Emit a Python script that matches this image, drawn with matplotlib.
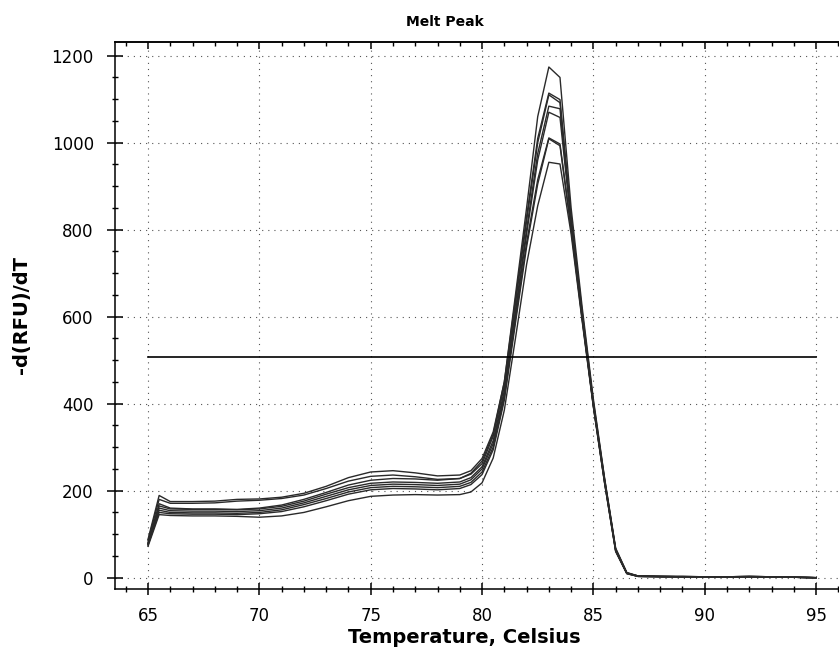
import matplotlib
matplotlib.use("Agg")
import matplotlib.pyplot as plt
from matplotlib.ticker import MultipleLocator

# ---------------- data ----------------
temperature = [65, 65.5, 66, 67, 68, 69, 70, 71, 72, 73, 74, 75, 76, 77, 78, 79, 79.5,
               80, 80.5, 81, 81.5, 82, 82.5, 83, 83.5, 84, 84.5, 85, 85.5, 86, 86.5,
               87, 88, 89, 90, 91, 92, 93, 94, 95]

well_1 = [78, 170, 160, 158, 158, 157, 160, 167, 180, 196, 213, 224, 228, 227, 224, 228, 240,
          268, 330, 450, 650, 850, 1060, 1174, 1150, 850, 620, 410, 230, 68, 12,
          4, 3, 3, 2, 2, 3, 2, 1, 0]
well_2 = [88, 189, 175, 175, 176, 180, 181, 185, 194, 210, 230, 243, 246, 241, 234, 236, 246,
          274, 335, 450, 640, 830, 1010, 1114, 1099, 830, 610, 405, 228, 66, 11,
          4, 3, 3, 2, 2, 3, 2, 1, 0]
well_3 = [85, 180, 171, 171, 172, 176, 178, 182, 190, 205, 222, 233, 236, 232, 226, 228, 238,
          262, 325, 440, 630, 820, 1000, 1110, 1092, 825, 605, 400, 226, 65, 11,
          4, 3, 2, 2, 2, 3, 2, 1, 0]
well_4 = [80, 165, 158, 157, 157, 156, 158, 164, 176, 192, 207, 217, 220, 219, 217, 220, 230,
          255, 315, 430, 615, 800, 975, 1084, 1078, 820, 600, 398, 224, 64, 10,
          4, 3, 2, 2, 2, 2, 2, 1, 0]
well_5 = [78, 160, 154, 153, 153, 152, 154, 160, 172, 187, 202, 212, 215, 214, 212, 215, 225,
          250, 308, 422, 605, 790, 960, 1070, 1058, 815, 598, 396, 222, 63, 10,
          3, 3, 2, 2, 2, 2, 2, 1, 0]
well_6 = [76, 155, 150, 149, 149, 148, 150, 156, 168, 182, 197, 207, 210, 209, 207, 210, 219,
          243, 300, 414, 595, 770, 915, 1011, 997, 805, 595, 395, 220, 62, 10,
          3, 2, 2, 2, 2, 2, 2, 1, 0]
well_7 = [75, 150, 147, 146, 146, 145, 147, 152, 163, 177, 192, 202, 205, 204, 202, 205, 214,
          237, 294, 408, 585, 760, 905, 1009, 993, 800, 592, 393, 219, 61, 10,
          3, 2, 2, 2, 2, 2, 1, 1, 0]
well_8 = [72, 145, 143, 142, 142, 141, 139, 142, 150, 163, 177, 187, 190, 191, 190, 191, 197,
          218, 275, 385, 550, 720, 855, 955, 951, 790, 588, 392, 218, 60, 9,
          3, 2, 2, 2, 2, 2, 1, 1, 0]

wells = [well_1, well_2, well_3, well_4, well_5, well_6, well_7, well_8]
threshold = 507

x_major_ticks = [65, 70, 75, 80, 85, 90, 95]
y_major_ticks = [0, 200, 400, 600, 800, 1000, 1200]

# ---------------- figure ----------------
fig = plt.figure(figsize=(8.39, 6.47), dpi=100)
ax = fig.add_axes([0.13707, 0.08918, 0.8680, 0.8464])

for w in wells:
    ax.plot(temperature, w, color="#2a2a2a", lw=1.0, zorder=3)

ax.plot([temperature[0], temperature[-1]], [threshold, threshold],
        color="black", lw=1.2, zorder=4)

ax.set_xlim(63.518, 96.22)
ax.set_ylim(-26.7, 1232.2)

ax.set_xticks(x_major_ticks)
ax.set_yticks(y_major_ticks)
ax.xaxis.set_minor_locator(MultipleLocator(1))
ax.yaxis.set_minor_locator(MultipleLocator(50))

ax.grid(True, which="major", color="#555555", linestyle=(0, (1.0, 4.5)), lw=0.8)

for s in ["left", "bottom", "top", "right"]:
    ax.spines[s].set_linewidth(1.1)
    ax.spines[s].set_color("black")

ax.tick_params(axis="x", which="major", direction="inout", length=8.6, width=1.1,
               pad=8.5, labelsize=12, top=False)
ax.tick_params(axis="x", which="minor", direction="inout", length=4.3, width=1.0, top=False)
ax.tick_params(axis="y", which="major", direction="inout", length=11.5, width=1.1,
               pad=9.5, labelsize=12, right=False)
ax.tick_params(axis="y", which="minor", direction="inout", length=4.8, width=1.0, right=False)

sec = ax.secondary_xaxis("top")
sec.set_xticks(x_major_ticks)
sec.xaxis.set_minor_locator(MultipleLocator(1))
sec.tick_params(which="major", direction="in", length=5, width=1.1, labeltop=False)
sec.tick_params(which="minor", direction="in", length=3, width=1.0)
sec.spines["top"].set_linewidth(1.1)

ax.set_xlabel("Temperature, Celsius", fontsize=14, fontweight="bold")
ax.xaxis.set_label_coords(0.480, -0.071)
ax.set_ylabel("-d(RFU)/dT", fontsize=14, fontweight="bold")
ax.yaxis.set_label_coords(-0.115, 0.5)

fig.text(0.530, 0.966, "Melt Peak", fontsize=10, fontweight="bold",
         ha="center", va="center")

fig.savefig("out.png", dpi=100)
